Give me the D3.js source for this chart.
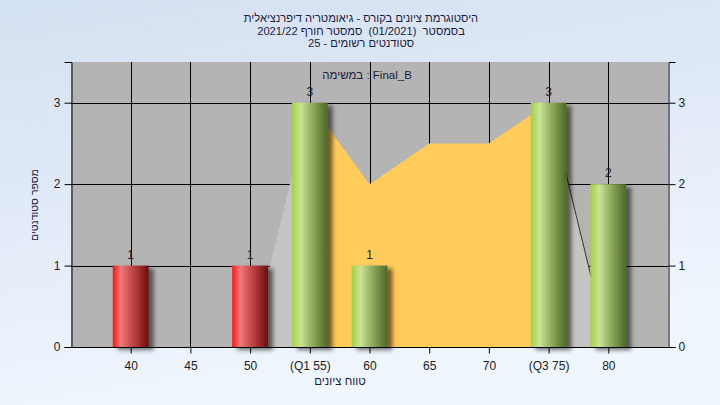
<!DOCTYPE html>
<html><head><meta charset="utf-8">
<script src="https://cdn.jsdelivr.net/npm/d3@7"></script>
<style>
html,body{margin:0;padding:0;}
body{width:720px;height:405px;overflow:hidden;}
text{font-family:"Liberation Sans","DejaVu Sans",sans-serif;}
</style></head>
<body>
<svg id="chart" width="720" height="405"></svg>
<script>
// ---- data ----
const titleLines = [
  "היסטוגרמת ציונים בקורס - גיאומטריה דיפרנציאלית",
  "בסמסטר  (01/2021)  סמסטר חורף 2021/22",
  "25 - סטודנטים רשומים"
];
const legendText = "במשימה : Final_B";
const xTitle = "טווח ציונים";
const yTitle = "מספר סטודנטים";
const categories = [40, 45, 50, 55, 60, 65, 70, 75, 80];
const tickLabels = ["40", "45", "50", "(Q1 55)", "60", "65", "70", "(Q3 75)", "80"];
const counts = [1, 0, 1, 3, 1, 0, 0, 3, 2];
const status = ["fail", "fail", "fail", "pass", "pass", "pass", "pass", "pass", "pass"];
const curveX = [50, 55, 60, 65, 70, 75, 80];
const curveY = [0, 3, 2, 2.5, 2.5, 3, 0];
const quartiles = [55, 75];
const yTicks = [0, 1, 2, 3];

// ---- layout ----
const svg = d3.select("#chart");
const W = 720, H = 405;
const L = 71, R = 668, T = 62, B = 347;
const x = d3.scaleLinear().domain([35, 85]).range([L, R]);
const y = d3.scaleLinear().domain([0, 3.5]).range([B, T]);

const defs = svg.append("defs");
const bg = defs.append("linearGradient").attr("id", "bg").attr("x1", 0).attr("y1", 0).attr("x2", 0.3).attr("y2", 1);
bg.append("stop").attr("offset", "0%").attr("stop-color", "#d3e0f1");
bg.append("stop").attr("offset", "100%").attr("stop-color", "#f0f6fd");

function cyl(id, stops) {
  const g = defs.append("linearGradient").attr("id", id).attr("x1", 0).attr("x2", 1).attr("y1", 0).attr("y2", 0);
  stops.forEach(s => g.append("stop").attr("offset", s[0]).attr("stop-color", s[1]));
}
cyl("fail", [["0%", "#ff1212"], ["22%", "#f07a7a"], ["55%", "#c24646"], ["100%", "#6c0d0d"]]);
cyl("pass", [["0%", "#a2d044"], ["25%", "#cbe496"], ["55%", "#94ae62"], ["100%", "#4b6926"]]);

const f = defs.append("filter").attr("id", "shadow").attr("x", "-30%").attr("y", "-10%").attr("width", "170%").attr("height", "130%");
f.append("feDropShadow").attr("dx", 5).attr("dy", 3).attr("stdDeviation", 2.2).attr("flood-color", "#000").attr("flood-opacity", 0.55);

svg.append("rect").attr("width", W).attr("height", H).attr("fill", "url(#bg)");

// plot background
svg.append("rect").attr("x", L).attr("y", T).attr("width", R - L).attr("height", B - T).attr("fill", "#b4b4b4");

// gridlines
svg.append("g").selectAll("line").data(categories).join("line")
  .attr("x1", d => Math.round(x(d)) + 0.5).attr("x2", d => Math.round(x(d)) + 0.5)
  .attr("y1", T).attr("y2", B).attr("stroke", "#000").attr("stroke-width", 1);
svg.append("g").selectAll("line").data(yTicks).join("line")
  .attr("x1", L).attr("x2", R)
  .attr("y1", d => Math.round(y(d)) + 0.5).attr("y2", d => Math.round(y(d)) + 0.5)
  .attr("stroke", "#000").attr("stroke-width", 1);

// area curve
const pts = curveX.map((v, i) => [v, curveY[i]]);
const area = d3.area().x(d => x(d[0])).y0(y(0)).y1(d => y(d[1]));
defs.append("clipPath").attr("id", "inq").append("rect")
  .attr("x", x(quartiles[0])).attr("y", T).attr("width", x(quartiles[1]) - x(quartiles[0])).attr("height", B - T);
defs.append("clipPath").attr("id", "outq").append("path")
  .attr("d", `M${L},${T}H${x(quartiles[0])}V${B}H${L}Z M${x(quartiles[1])},${T}H${R}V${B}H${x(quartiles[1])}Z`);
svg.append("path").datum(pts).attr("d", area).attr("fill", "#c4c4c4").attr("clip-path", "url(#outq)");
svg.append("path").datum(pts).attr("d", area).attr("fill", "#ffcc5a").attr("clip-path", "url(#inq)");
svg.append("path").datum(pts.filter(p => p[0] >= quartiles[1]))
  .attr("d", d3.line().x(d => x(d[0])).y(d => y(d[1])))
  .attr("fill", "none").attr("stroke", "#333").attr("stroke-width", 1);

// bars
const bw = x(38) - x(35);
const bars = categories.map((c, i) => ({ c, v: counts[i], s: status[i] })).filter(d => d.v > 0);
svg.append("g").selectAll("rect").data(bars).join("rect")
  .attr("x", d => x(d.c) - bw / 2).attr("width", bw)
  .attr("y", d => y(d.v)).attr("height", d => y(0) - y(d.v))
  .attr("fill", d => `url(#${d.s})`).attr("filter", "url(#shadow)");
svg.append("g").selectAll("text").data(bars).join("text")
  .attr("x", d => x(d.c)).attr("y", d => y(d.v) - 7)
  .attr("text-anchor", "middle").attr("font-size", 12).attr("fill", "#222")
  .text(d => d.v);

// axes
const axL = svg.append("g").attr("transform", `translate(${L + 0.5},0)`)
  .call(d3.axisLeft(y).tickValues(yTicks).tickSize(7).tickPadding(4).tickFormat(d3.format("d")));
const axR = svg.append("g").attr("transform", `translate(${R + 0.5},0)`)
  .call(d3.axisRight(y).tickValues(yTicks).tickSize(7).tickPadding(3).tickFormat(d3.format("d")));
const axB = svg.append("g").attr("transform", `translate(0,${B + 0.5})`)
  .call(d3.axisBottom(x).tickValues(categories).tickSize(6).tickPadding(8).tickFormat((d, i) => tickLabels[i]));
[axL, axR, axB].forEach(a => {
  a.select(".domain").attr("stroke", "#000");
  a.selectAll(".tick line").attr("stroke", "#000");
  a.selectAll("text").attr("font-size", 12).attr("fill", "#222").attr("font-family", "Liberation Sans, DejaVu Sans, sans-serif");
});
axB.select(".domain").attr("d", `M${L},0H${R}`);

// titles
svg.append("g").selectAll("text").data(titleLines).join("text")
  .attr("x", 361).attr("y", (d, i) => 22 + i * 12.5)
  .attr("text-anchor", "middle").attr("font-size", 11.2).attr("fill", "#1c1c3c")
  .attr("xml:space", "preserve").style("white-space", "pre")
  .text(d => d);

svg.append("text").attr("x", 367).attr("y", 79).attr("text-anchor", "middle")
  .attr("font-size", 11.5).attr("fill", "#1c1c3c").text(legendText);

svg.append("text").attr("x", 340).attr("y", 385).attr("text-anchor", "middle")
  .attr("font-size", 11.5).attr("fill", "#1c1c3c").text(xTitle);

svg.append("text").attr("transform", "translate(38,205) rotate(-90)").attr("text-anchor", "middle")
  .attr("font-size", 10.5).attr("fill", "#1c1c3c").text(yTitle);
</script>
</body></html>
